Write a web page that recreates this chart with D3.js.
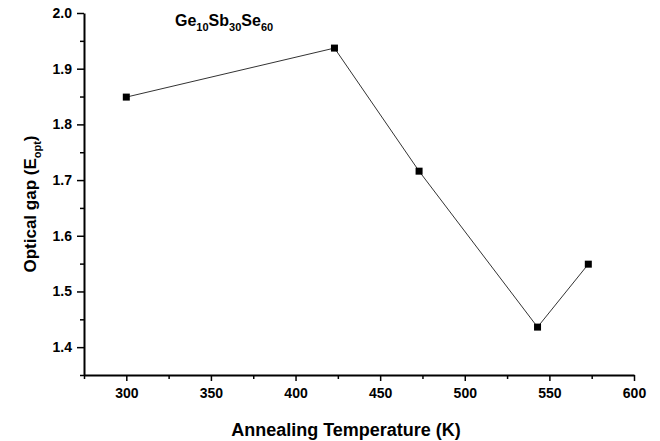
<!DOCTYPE html>
<html>
<head>
<meta charset="utf-8">
<script src="https://cdn.jsdelivr.net/npm/d3@7"></script>
<style>
  body { margin: 0; background: #fff; }
  text { font-family: "Liberation Sans", Arial, sans-serif; font-weight: bold; fill: #000; }
</style>
</head>
<body>
<svg id="chart" width="660" height="441"></svg>
<script>
// annealing temperature (K) and optical gap values
var temps     = [300, 423, 473, 543, 573],
    gaps      = [1.849, 1.937, 1.716, 1.436, 1.549],
    xTicks    = [300, 350, 400, 450, 500, 550, 600],
    yTicks    = [1.4, 1.5, 1.6, 1.7, 1.8, 1.9, 2.0];

var svg = d3.select('#chart');

// plot edges in px (note: "top" is reserved on window, so use a different name)
var plotLeft   = 84,
    plotRight  = 634,
    plotTop    = 13,
    plotBottom = 375;

var x = d3.scaleLinear().domain([275, 600]).range([plotLeft, plotRight]),
    y = d3.scaleLinear().domain([1.35, 2.0]).range([plotBottom, plotTop]);

// minor ticks halfway between the labelled ones
var xMinor = [275, 325, 375, 425, 475, 525, 575],
    yMinor = [1.35, 1.45, 1.55, 1.65, 1.75, 1.85, 1.95];

// x axis
var gx = svg.append('g').attr('transform', 'translate(0,' + plotBottom + ')');
gx.call(d3.axisBottom(x).tickValues(xTicks).tickSize(6).tickPadding(7).tickSizeOuter(0)
	.tickFormat(d3.format('d')));
gx.append('g').call(d3.axisBottom(x).tickValues(xMinor).tickSize(4).tickFormat('').tickSizeOuter(0))
	.select('.domain').remove();

// y axis
var gy = svg.append('g').attr('transform', 'translate(' + plotLeft + ',0)');
gy.call(d3.axisLeft(y).tickValues(yTicks).tickSize(7).tickPadding(5).tickSizeOuter(0)
	.tickFormat(d3.format('.1f')));
gy.append('g').call(d3.axisLeft(y).tickValues(yMinor).tickSize(4).tickFormat('').tickSizeOuter(0))
	.select('.domain').remove();

svg.selectAll('.domain').attr('stroke', '#000').attr('stroke-width', 2);
svg.selectAll('.tick line').attr('stroke', '#000').attr('stroke-width', 1.5);
svg.selectAll('.tick text').style('font-size', '14px').style('font-weight', 'bold')
	.style('font-family', '"Liberation Sans", Arial, sans-serif');

// data line and markers
var line = d3.line()
	.x(function(d, i){ return x(temps[i]); })
	.y(function(d){ return y(d); });

svg.append('path')
	.datum(gaps)
	.attr('d', line)
	.attr('fill', 'none')
	.attr('stroke', '#333')
	.attr('stroke-width', 1);

svg.selectAll('rect.pt')
	.data(gaps)
	.enter()
	.append('rect')
	.attr('class', 'pt')
	.attr('x', function(d, i){ return x(temps[i]) - 3.5; })
	.attr('y', function(d){ return y(d) - 3.5; })
	.attr('width', 7)
	.attr('height', 7)
	.attr('fill', '#000');

// composition label
var title = svg.append('text')
	.attr('x', 175)
	.attr('y', 26)
	.style('font-size', '16px');
[['Ge', false], ['10', true], ['Sb', false], ['30', true], ['Se', false], ['60', true]].forEach(function(p, i){
	title.append('tspan')
		.attr('dy', p[1] ? 5 : (i ? -5 : 0))
		.style('font-size', p[1] ? '11px' : '16px')
		.text(p[0]);
});

// axis titles
svg.append('text')
	.attr('x', 346)
	.attr('y', 436)
	.attr('text-anchor', 'middle')
	.style('font-size', '18px')
	.text('Annealing Temperature (K)');

var ylab = svg.append('text')
	.attr('transform', 'translate(36,204) rotate(-90)')
	.attr('text-anchor', 'middle')
	.style('font-size', '17px');
ylab.append('tspan').text('Optical gap (E');
ylab.append('tspan').attr('dy', 5).style('font-size', '11px').text('opt');
ylab.append('tspan').attr('dy', -5).text(')');
</script>
</body>
</html>
